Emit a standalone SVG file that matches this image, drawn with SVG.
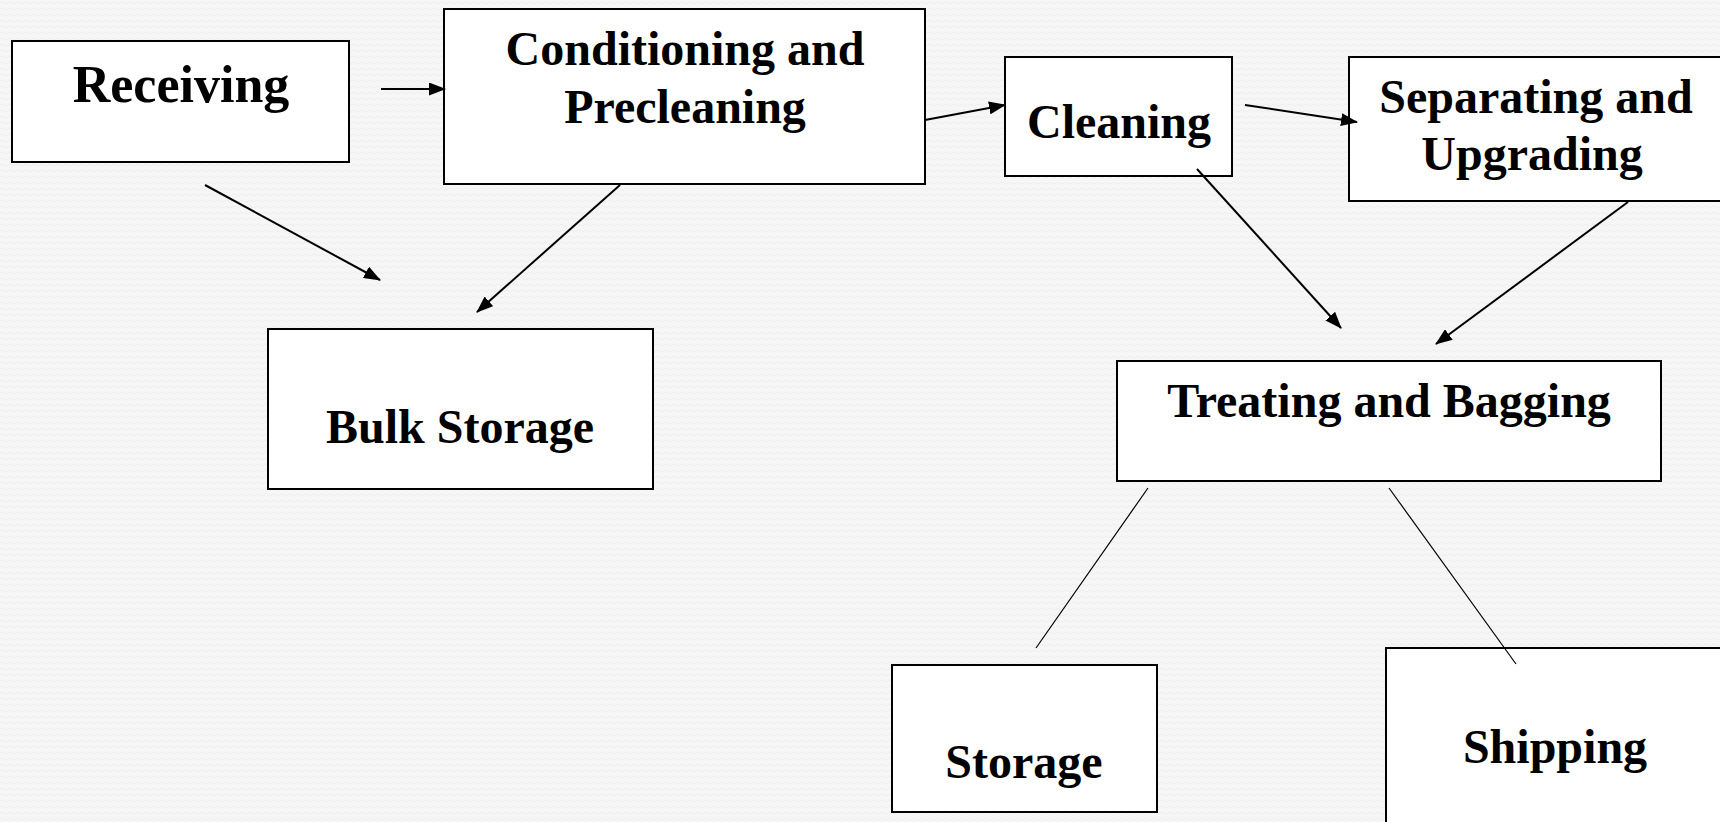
<svg xmlns="http://www.w3.org/2000/svg" width="1720" height="822" viewBox="0 0 1720 822">
<style>
.box{fill:#ffffff;stroke:#000000;stroke-width:2}
.lbl{font-family:"Liberation Serif","Times New Roman",serif;font-weight:bold;font-size:48px;fill:#000000;text-anchor:middle}
.arr{stroke:#000000;stroke-width:2;fill:none;marker-end:url(#ah)}
.thin{stroke:#000000;stroke-width:1.2;fill:none}
</style>
<defs>
<marker id="ah" markerUnits="userSpaceOnUse" markerWidth="17" markerHeight="13" refX="16" refY="6.5" orient="auto">
<path d="M0,0 L17,6.5 L0,13 z" fill="#000000"/>
</marker>
<pattern id="bgp" width="8" height="6" patternUnits="userSpaceOnUse">
<rect width="8" height="6" fill="#f6f6f6"/>
<path d="M0,3 Q2,1 4,3 T8,3" stroke="#eeeeee" stroke-width="1" fill="none"/>
</pattern>
</defs>
<rect x="0" y="0" width="1720" height="822" fill="url(#bgp)"/>
<g id="receiving">
<rect class="box" x="12" y="41" width="337" height="121"/>
<text class="lbl" x="181" y="102" style="font-size:52px">Receiving</text>
</g>
<g id="conditioning">
<rect class="box" x="444" y="9" width="481" height="175"/>
<text class="lbl" x="685" y="65">Conditioning and</text>
<text class="lbl" x="685" y="123">Precleaning</text>
</g>
<g id="cleaning">
<rect class="box" x="1005" y="57" width="227" height="119"/>
<text class="lbl" x="1119" y="138">Cleaning</text>
</g>
<g id="separating">
<rect class="box" x="1349" y="57" width="385" height="144"/>
<text class="lbl" x="1536" y="113">Separating and</text>
<text class="lbl" x="1532" y="170">Upgrading</text>
</g>
<g id="bulk-storage">
<rect class="box" x="268" y="329" width="385" height="160"/>
<text class="lbl" x="460" y="443">Bulk Storage</text>
</g>
<g id="treating">
<rect class="box" x="1117" y="361" width="544" height="120"/>
<text class="lbl" x="1389" y="417">Treating and Bagging</text>
</g>
<g id="storage">
<rect class="box" x="892" y="665" width="265" height="147"/>
<text class="lbl" x="1024" y="778">Storage</text>
</g>
<g id="shipping">
<rect class="box" x="1386" y="648" width="350" height="190"/>
<text class="lbl" x="1555" y="763">Shipping</text>
</g>
<g id="connectors">
<line class="arr" x1="381" y1="89" x2="445" y2="89"/>
<line class="arr" x1="205" y1="185" x2="380" y2="280"/>
<line class="arr" x1="620" y1="185" x2="477" y2="312"/>
<line class="arr" x1="925" y1="120" x2="1005" y2="105"/>
<line class="arr" x1="1245" y1="105" x2="1357" y2="122"/>
<line class="arr" x1="1197" y1="169" x2="1341" y2="328"/>
<line class="arr" x1="1628" y1="202" x2="1436" y2="344"/>
<line class="thin" x1="1148" y1="488" x2="1036" y2="648"/>
<line class="thin" x1="1389" y1="488" x2="1516" y2="664"/>
</g>
</svg>
